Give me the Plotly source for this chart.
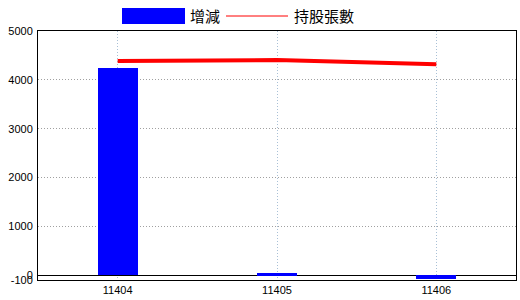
import plotly.graph_objects as go

categories = ["11404", "11405", "11406"]
change = [4240, 35, -80]
holdings = [4385, 4405, 4320]
ytick_vals = [-100, 0, 1000, 2000, 3000, 4000, 5000]
ytick_text = ["-100", "0", "1000", "2000", "3000", "4000", "5000"]
names = ["增減", "持股張數"]

W, H = 520, 300
fig = go.Figure()
fig.add_trace(go.Bar(x=categories, y=change, name=names[0], marker_color="#0000FF",
                     marker_line_width=0, width=0.25, showlegend=False))
fig.add_trace(go.Scatter(x=categories, y=holdings, name=names[1], mode="lines",
                         line=dict(color="#FF0000", width=4), showlegend=False))

# manual legend (paper coords computed from pixels)
def px(x):
    return (x - 38) / (516 - 38)
def py(y):
    return (280 - y) / (280 - 31)

fig.add_shape(type="rect", xref="paper", yref="paper",
              x0=px(122), x1=px(185), y0=py(24), y1=py(8),
              fillcolor="#0000FF", line_width=0)
fig.add_shape(type="line", xref="paper", yref="paper",
              x0=px(226), x1=px(288), y0=py(16), y1=py(16),
              line=dict(color="#FF0000", width=1))
fig.add_annotation(xref="paper", yref="paper", x=px(188), y=py(16), text=names[0],
                   showarrow=False, xanchor="left", yanchor="middle",
                   font=dict(family="Noto Sans CJK TC", size=15, color="black"))
fig.add_annotation(xref="paper", yref="paper", x=px(292), y=py(16), text=names[1],
                   showarrow=False, xanchor="left", yanchor="middle",
                   font=dict(family="Noto Sans CJK TC", size=15, color="black"))

fig.update_layout(
    width=W, height=H,
    margin=dict(l=38, r=4, t=31, b=20, autoexpand=False),
    paper_bgcolor="white", plot_bgcolor="white",
    font=dict(family="Liberation Sans", size=11, color="black"),
    showlegend=False,
    bargap=0,
)
fig.update_xaxes(type="category", range=[-0.5, 2.5], showgrid=True,
                 gridcolor="#A9C0D6", griddash="1px,2px", gridwidth=1,
                 showline=True, linecolor="black", linewidth=1, mirror=True,
                 ticks="", tickfont=dict(size=11))
fig.update_yaxes(range=[-100, 5000], tickvals=ytick_vals, ticktext=ytick_text,
                 showgrid=True, gridcolor="#A0A0A0", griddash="1px,2px", gridwidth=1,
                 zeroline=True, zerolinecolor="black", zerolinewidth=1,
                 showline=True, linecolor="black", linewidth=1, mirror=True,
                 ticks="", ticklabelstandoff=2, tickfont=dict(size=11))

fig.write_html("out.html")
